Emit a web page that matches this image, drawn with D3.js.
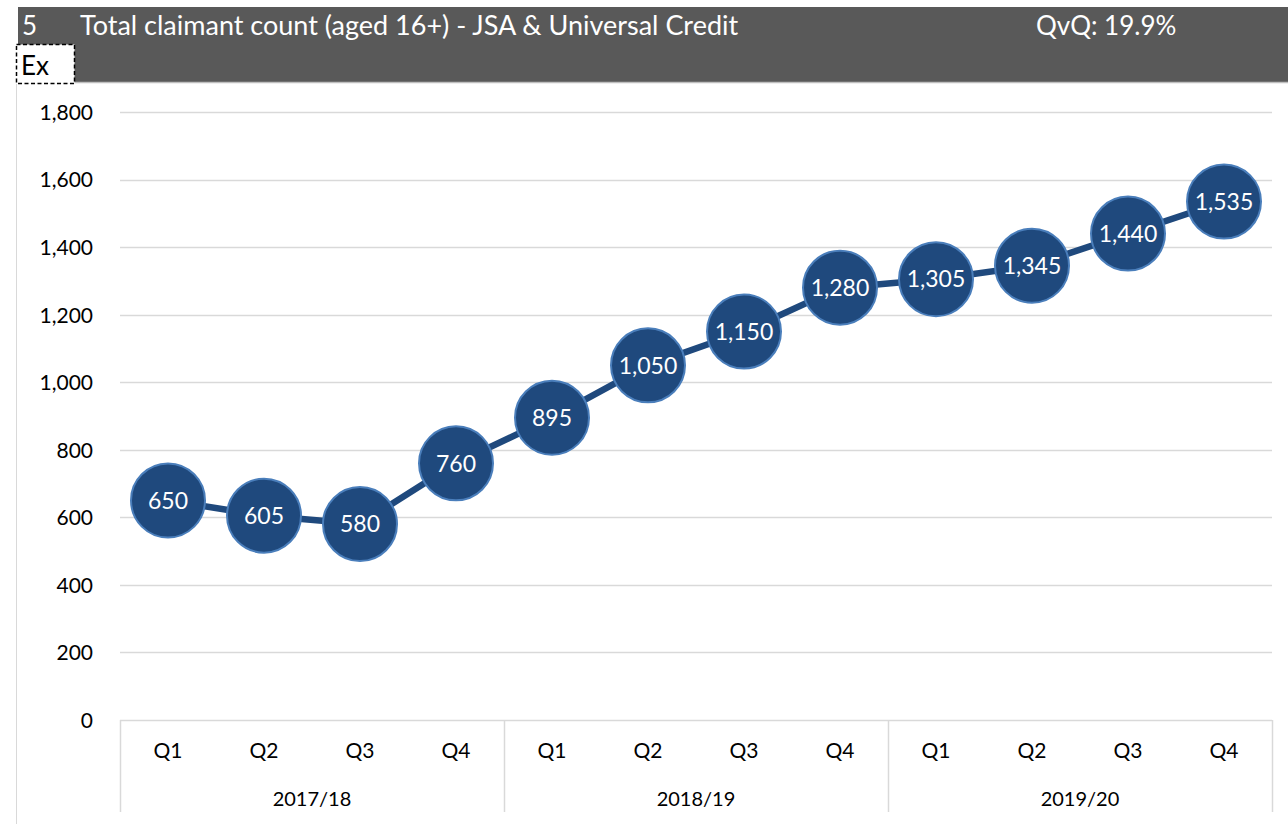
<!DOCTYPE html>
<html><head><meta charset="utf-8">
<script src="https://d3js.org/d3.v7.min.js"></script>
<style>body{margin:0;background:#fff;}svg{display:block;font-family:Lato,"Open Sans",sans-serif;}</style>
</head><body><svg id="c" width="1288" height="824"></svg>
<script>
const years = ["2017/18","2018/19","2019/20"];
const quarters = ["Q1","Q2","Q3","Q4"];
const values = [650,605,580,760,895,1050,1150,1280,1305,1345,1440,1535];
const yTicks = [0,200,400,600,800,1000,1200,1400,1600,1800];
const titleNum = "5";
const titleText = "Total claimant count (aged 16+) - JSA & Universal Credit";
const qvqText = "QvQ: 19.9%";

const svg = d3.select("#c");
const cats = [];
years.forEach(y => quarters.forEach(q => cats.push({y, q})));
const data = cats.map((c, i) => ({...c, v: values[i], i}));

const x = d3.scaleBand().domain(d3.range(cats.length)).range([120,1272]).padding(0);
const y = d3.scaleLinear().domain([0,1800]).range([720,112]);

// header
svg.append("rect").attr("x",18).attr("y",7).attr("width",1270).attr("height",75).attr("fill","#595959");
svg.append("line").attr("x1",18).attr("x2",1288).attr("y1",82.5).attr("y2",82.5).attr("stroke","#bfbfbf").attr("stroke-width",1.5);
svg.append("text").attr("x",22).attr("y",35).attr("fill","#fff").attr("font-size",26).text(titleNum);
svg.append("text").attr("x",80).attr("y",35).attr("fill","#fff").attr("font-size",27).text(titleText);
svg.append("text").attr("x",1036).attr("y",35).attr("fill","#fff").attr("font-size",26).text(qvqText);
// Ex box
svg.append("rect").attr("x",16.5).attr("y",44.5).attr("width",58).attr("height",39).attr("fill","#fff")
  .attr("stroke","#000").attr("stroke-width",1.5).attr("stroke-dasharray","4,2.5");
svg.append("text").attr("x",21).attr("y",75).attr("font-size",26).attr("fill","#000").text("Ex");
// left border
svg.append("line").attr("x1",16.5).attr("x2",16.5).attr("y1",84).attr("y2",824).attr("stroke","#d9d9d9");

// gridlines
svg.append("g").selectAll("line").data(yTicks.filter(t=>t>0)).join("line")
  .attr("x1",120).attr("x2",1272).attr("y1",d=>Math.round(y(d))+0.5).attr("y2",d=>Math.round(y(d))+0.5)
  .attr("stroke","#d9d9d9").attr("stroke-width",1.5);
// y axis labels
const yAxis = d3.axisLeft(y).tickValues(yTicks).tickFormat(d3.format(",")).tickSize(0).tickPadding(0);
const ga = svg.append("g").attr("transform","translate(93,0)").call(yAxis);
ga.select(".domain").remove();
ga.selectAll("text").attr("font-size",21).attr("fill","#000").attr("font-family","Lato,'Open Sans',sans-serif").attr("dy","0.35em");

// x axis baseline
svg.append("line").attr("x1",120).attr("x2",1272).attr("y1",720.5).attr("y2",720.5).attr("stroke","#d9d9d9").attr("stroke-width",1.5);
// group dividers
const bounds = [0,4,8,12].map(k => k<12 ? x(k) : x(11)+x.bandwidth());
svg.append("g").selectAll("line").data(bounds).join("line")
  .attr("x1",d=>d+0.5).attr("x2",d=>d+0.5).attr("y1",720).attr("y2",812)
  .attr("stroke","#d9d9d9").attr("stroke-width",1.5);
// quarter labels
svg.append("g").selectAll("text").data(data).join("text")
  .attr("x",d=>x(d.i)+x.bandwidth()/2).attr("y",758).attr("text-anchor","middle")
  .attr("font-size",21).attr("fill","#000").text(d=>d.q);
// year labels
svg.append("g").selectAll("text").data(years).join("text")
  .attr("x",(d,k)=>(x(k*4)+x(k*4+3)+x.bandwidth())/2).attr("y",806).attr("text-anchor","middle")
  .attr("font-size",20).attr("fill","#000").text(d=>d);

// line
const line = d3.line().x(d=>x(d.i)+x.bandwidth()/2).y(d=>y(d.v));
svg.append("path").datum(data).attr("d",line).attr("fill","none").attr("stroke","#1f497d").attr("stroke-width",6.5).attr("stroke-linejoin","round");
// markers
svg.append("g").selectAll("circle").data(data).join("circle")
  .attr("cx",d=>x(d.i)+x.bandwidth()/2).attr("cy",d=>y(d.v)).attr("r",37)
  .attr("fill","#1f497d").attr("stroke","#4a7ebb").attr("stroke-width",2);
svg.append("g").selectAll("text").data(data).join("text")
  .attr("x",d=>x(d.i)+x.bandwidth()/2).attr("y",d=>y(d.v)).attr("dy","0.36em").attr("text-anchor","middle")
  .attr("font-size",23).attr("fill","#fff").text(d=>d3.format(",")(d.v));
</script></body></html>
